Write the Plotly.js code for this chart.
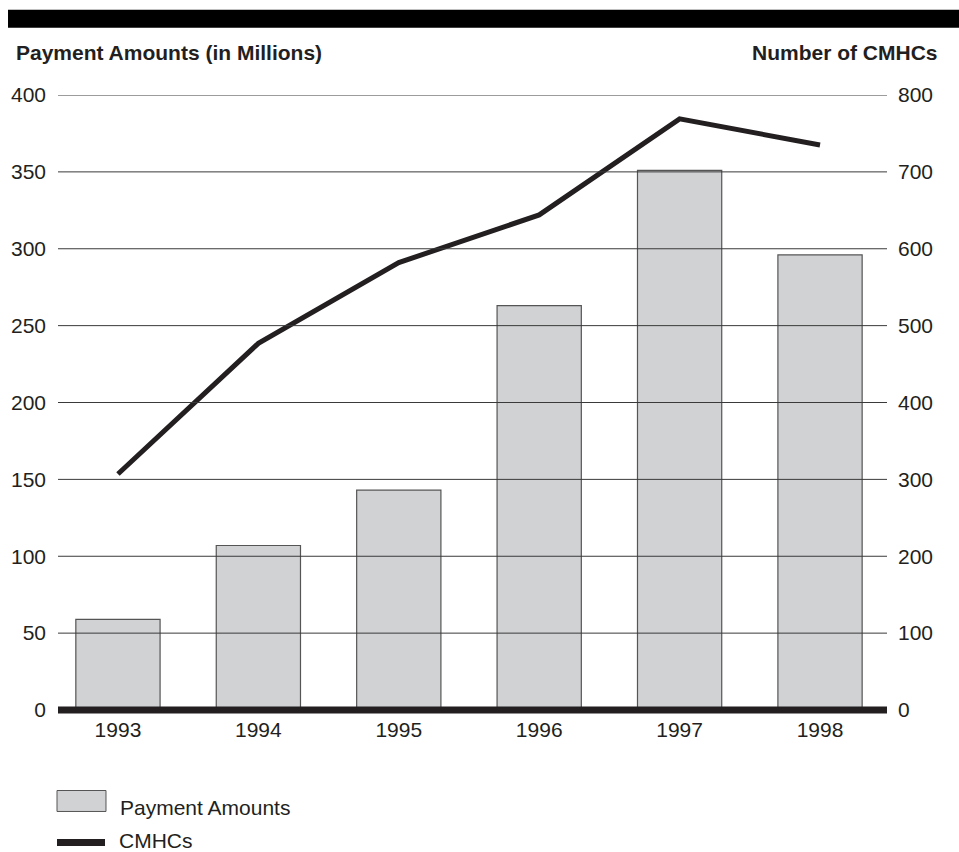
<!DOCTYPE html>
<html>
<head>
<meta charset="utf-8">
<script src="https://cdn.plot.ly/plotly-3.0.1.min.js"></script>
<style>html,body{margin:0;padding:0;background:#fff;}#chart{width:959px;height:852px;}</style>
</head>
<body>
<div id="chart"></div>
<script>
const years = ['1993', '1994', '1995', '1996', '1997', '1998'];
const paymentAmounts = [59, 107, 143, 263, 351, 296];
const cmhcCounts = [307, 477, 582, 644, 769, 735];
const leftTicks = [0, 50, 100, 150, 200, 250, 300, 350, 400];
const rightTicks = [0, 100, 200, 300, 400, 500, 600, 700, 800];

const FONT = 'Liberation Sans, Arial, sans-serif';
const INK = '#231f20';

const traces = [
  {
    type: 'bar', x: years, y: paymentAmounts, name: 'Payment Amounts',
    width: 0.6,
    marker: {color: '#d1d2d4', line: {color: '#555555', width: 1.2}},
    hoverinfo: 'x+y'
  },
  {
    type: 'scatter', mode: 'lines', x: years, y: cmhcCounts, name: 'CMHCs',
    yaxis: 'y2', line: {color: INK, width: 5},
    hoverinfo: 'x+y'
  }
];

const shapes = leftTicks.filter(v => v > 0).map(v => ({
  type: 'line', xref: 'paper', yref: 'y', x0: 0, x1: 1, y0: v, y1: v,
  line: {color: '#3a3a3a', width: 1}, layer: 'above'
}));
// thick baseline (paper-referenced so it is not clipped)
shapes.push({type: 'line', xref: 'paper', yref: 'paper', x0: 0, x1: 1, y0: 0, y1: 0,
  line: {color: INK, width: 7}, layer: 'above'});
// top black banner
shapes.push({type: 'rect', xref: 'paper', yref: 'paper', x0: -0.0603, x1: 1.09, y0: 1.1094, y1: 1.1387,
  fillcolor: '#000000', line: {width: 0}});
// legend marks
shapes.push({type: 'rect', xref: 'paper', yref: 'paper', x0: -0.0012, x1: 0.0579, y0: -0.165, y1: -0.1309,
  fillcolor: '#d1d2d4', line: {color: '#555555', width: 1}});
shapes.push({type: 'line', xref: 'paper', yref: 'paper', x0: -0.0012, x1: 0.0567, y0: -0.2154, y1: -0.2154,
  line: {color: INK, width: 7}});

const annotations = [
  {xref: 'paper', yref: 'paper', x: -0.0531, y: 1.0687, xanchor: 'left', yanchor: 'middle',
   text: '<b>Payment Amounts (in Millions)</b>', showarrow: false, font: {family: FONT, size: 21, color: INK}},
  {xref: 'paper', yref: 'paper', x: 1.0639, y: 1.0687, xanchor: 'right', yanchor: 'middle',
   text: '<b>Number of CMHCs</b>', showarrow: false, font: {family: FONT, size: 21, color: INK}},
  {xref: 'paper', yref: 'paper', x: 0.0724, y: -0.1585, xanchor: 'left', yanchor: 'middle',
   text: 'Payment Amounts', showarrow: false, font: {family: FONT, size: 21, color: INK}},
  {xref: 'paper', yref: 'paper', x: 0.0724, y: -0.2121, xanchor: 'left', yanchor: 'middle',
   text: 'CMHCs', showarrow: false, borderpad: 0, font: {family: FONT, size: 21, color: INK}}
];

const layout = {
  width: 959, height: 852,
  margin: {l: 58, r: 72, t: 95.3, b: 141.5},
  paper_bgcolor: '#ffffff', plot_bgcolor: '#ffffff',
  showlegend: false,
  font: {family: FONT, size: 21, color: INK},
  xaxis: {
    type: 'category', range: [-0.427, 5.477], showgrid: false, zeroline: false, showline: false,
    ticks: '', tickfont: {family: FONT, size: 21, color: INK}, ticklabelstandoff: 5, fixedrange: true
  },
  yaxis: {
    range: [0, 400], tickvals: leftTicks, ticktext: leftTicks.map(String),
    showgrid: false, zeroline: false, showline: false, ticks: '',
    tickfont: {family: FONT, size: 21, color: INK}, ticklabelstandoff: 11, fixedrange: true
  },
  yaxis2: {
    range: [0, 800], tickvals: rightTicks, ticktext: rightTicks.map(String),
    overlaying: 'y', side: 'right', showgrid: false, zeroline: false, showline: false, ticks: '',
    tickfont: {family: FONT, size: 21, color: INK}, ticklabelstandoff: 10, fixedrange: true
  },
  shapes: shapes,
  annotations: annotations
};

Plotly.newPlot('chart', traces, layout, {displayModeBar: false, staticPlot: true});
</script>
</body>
</html>
